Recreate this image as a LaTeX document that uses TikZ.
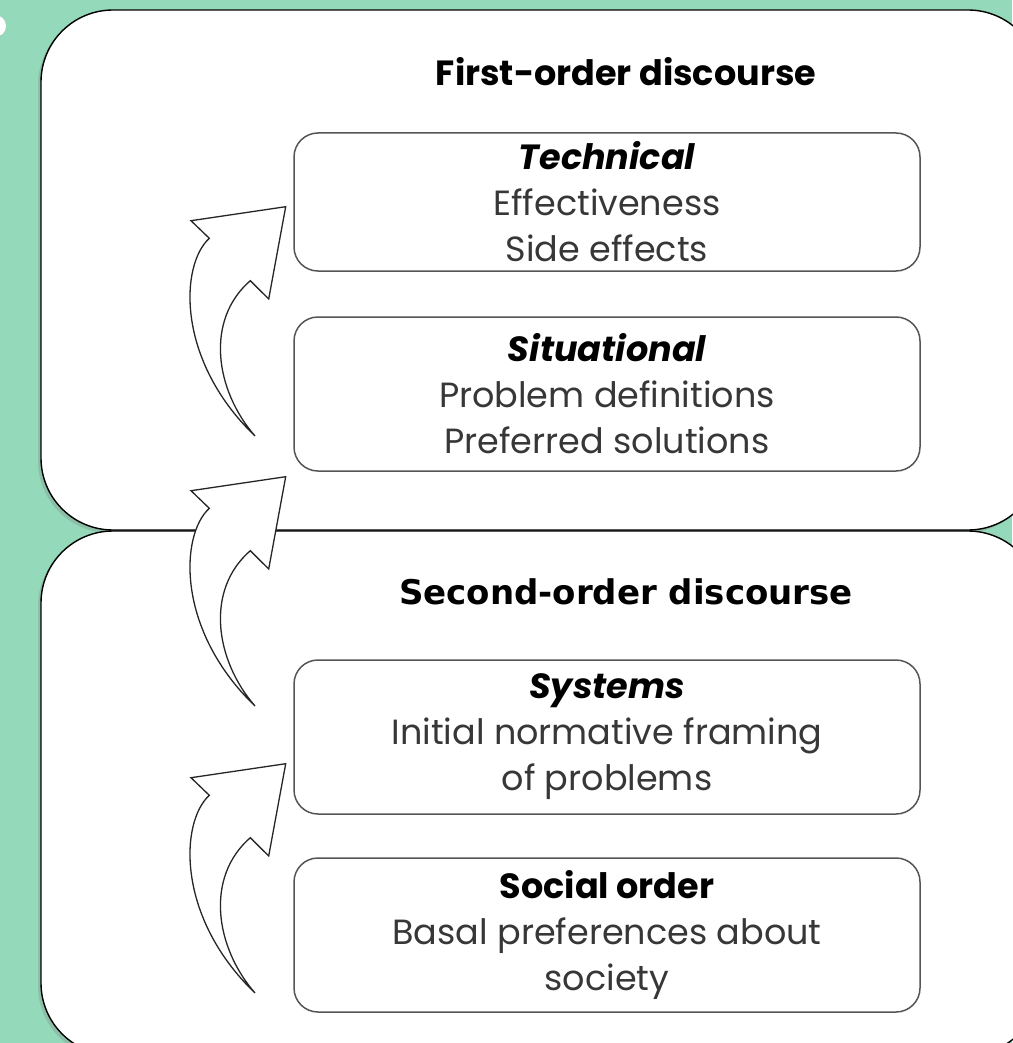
\documentclass[tikz,border=0pt]{standalone}
\usepackage{fontspec}
\setmainfont{Poppins}
\newfontfamily\tahomalike{DejaVu Sans}
\usetikzlibrary{shapes,arrows,positioning,calc,shadows}
\definecolor{sagegreen}{RGB}{148,217,185}
\definecolor{boxgrey}{RGB}{85,85,85}
\definecolor{textgrey}{RGB}{55,55,55}

\begin{document}
\begin{tikzpicture}[x=1pt, y=-1pt,
    orderbox/.style={draw=black, line width=1.4pt, fill=white, rounded corners=72pt,
        minimum width=999pt,
        drop shadow={shadow xshift=-3pt, shadow yshift=-3pt, opacity=0.3}},
    levelbox/.style={draw=boxgrey, line width=1.5pt, fill=white, rounded corners=24pt,
        minimum width=626pt, minimum height=154pt, align=center, text=textgrey,
        font=\fontsize{35}{46}\selectfont},
    liftarrow/.style={draw=black!85, line width=1.3pt, fill=white}]
    \useasboundingbox (0,0) rectangle (1012,1043);
    \fill[sagegreen] (0,0) rectangle (1012,1043);
    \fill[white, drop shadow={shadow xshift=-2pt, shadow yshift=-2pt, opacity=0.3}] (-5,26) circle (11pt);

    % the two orders of discourse
    \node[orderbox, minimum height=520pt] (first) at (540.5,270) {};
    \node[orderbox, minimum height=524pt] (second) at (540.5,793) {};
    \node[font=\fontsize{35}{40}\selectfont\bfseries] (firsttitle) at (626,72) {First-order discourse};
    \node[font=\fontsize{34}{40}\selectfont\tahomalike\bfseries] (secondtitle) at (626,592) {Second-order discourse};

    % the four levels
    \node[levelbox, minimum height=138pt] (tech) at (607,202) {{\color{black}\bfseries\itshape Technical}\\Effectiveness\\Side effects};
    \node[levelbox] (situ) at (607,394) {{\color{black}\bfseries\itshape Situational}\\Problem definitions\\Preferred solutions};
    \node[levelbox] (sys) at (607,737) {{\color{black}\bfseries\itshape Systems}\\Initial normative framing\\of problems};
    \node[levelbox] (social) at (607,935) {{\color{black}\bfseries Social order}\\Basal preferences about\\society};

    % curved arrows going up
    \foreach \s in {0,270,557}{
        \draw[liftarrow, shift={(0,\s)}] (285.7,206.7) -- (191,220.7) -- (209.3,238.3)
            .. controls (180,265) and (176,360) .. (255,436)
            .. controls (215,390) and (205,320) .. (250.3,280.7)
            -- (268.7,299) -- cycle;
    }
\end{tikzpicture}
\end{document}
